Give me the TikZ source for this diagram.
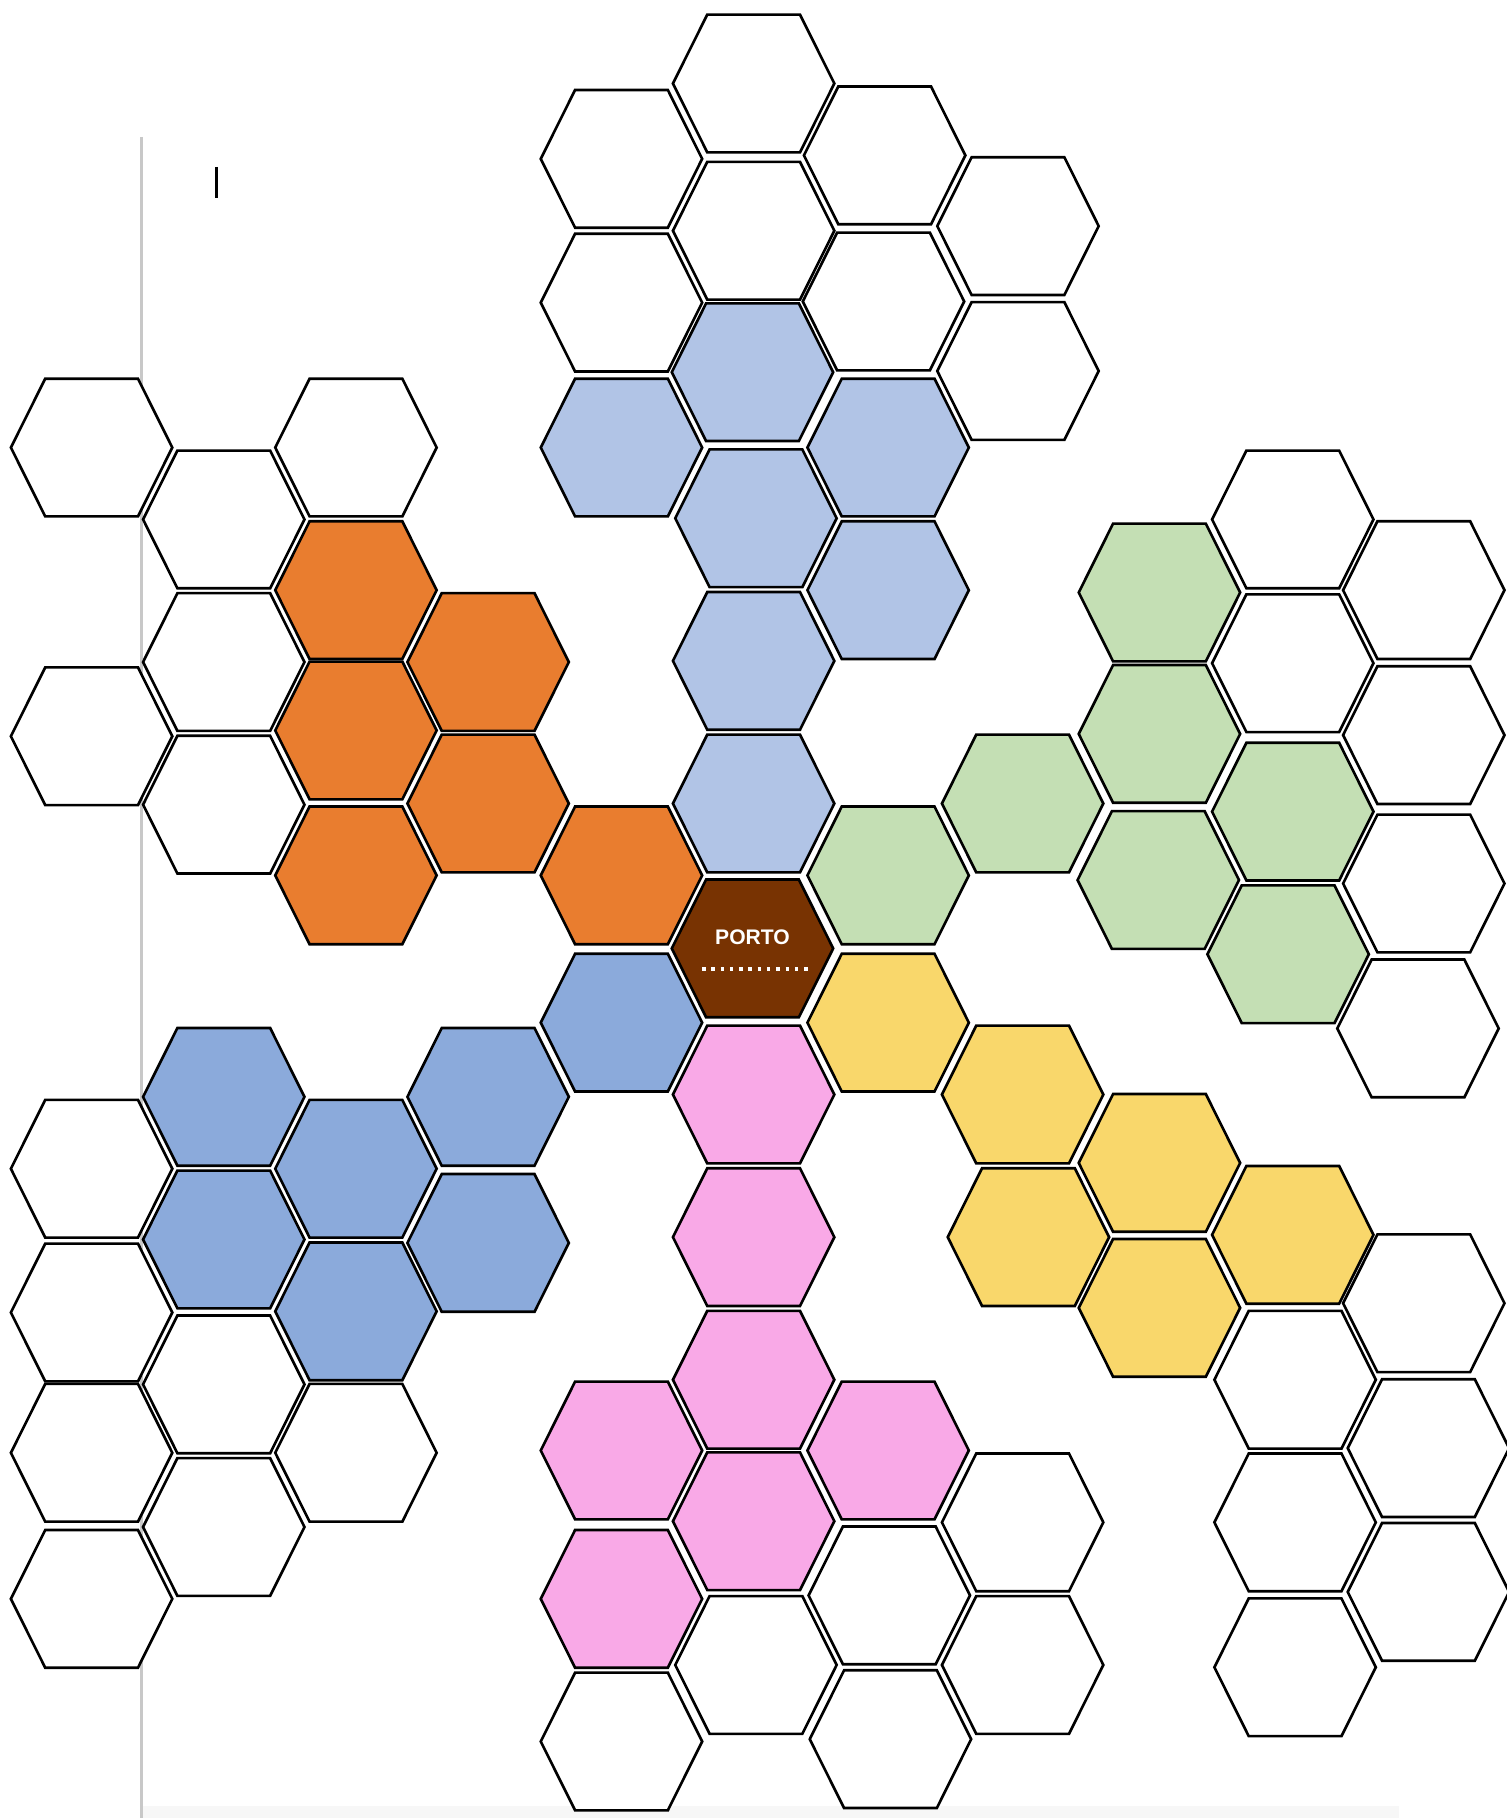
\documentclass[tikz,border=0pt]{standalone}
\usepackage{fontspec}
\newfontfamily\labelfont{Liberation Sans}
\usepackage{tikz}
\usetikzlibrary{positioning}
\definecolor{paleblue}{RGB}{177,196,230}
\definecolor{burnt}{RGB}{233,125,47}
\definecolor{sage}{RGB}{196,223,180}
\definecolor{sun}{RGB}{249,215,107}
\definecolor{rose}{RGB}{249,169,231}
\definecolor{steel}{RGB}{139,170,219}
\definecolor{portobrown}{RGB}{120,51,2}
\definecolor{margin}{RGB}{200,200,200}

\tikzset{
  hexcell/.pic={\path[pic actions] (-69.6,0) -- (-40,-59.4) -- (40,-59.4) -- (69.6,0) -- (40,59.4) -- (-40,59.4) -- cycle;},
  hexline/.style={draw=black, line width=0.75pt, line join=miter}
}

\begin{document}
\begin{tikzpicture}[x=0.011594cm, y=-0.011594cm]
  \useasboundingbox (0,0) rectangle (1299,1568);
  % Margin rule, cursor and bottom strip
  \fill[black!3] (123,1558) rectangle (1207,1568);
  \draw[margin, line width=0.75pt] (122,118) -- (122,1568);
  \draw[black, line width=0.85pt] (187,144) -- (187,171);
  % Empty cells
  \foreach \x/\y in {650/72, 536/137, 763/134, 878/195, 650/199, 536/261, 762/260, 878/320,
                     79/386, 307/386, 193/448, 193/571, 79/635, 193/694,
                     1115/448, 1228/509, 1115/572, 1228/634, 1228/762, 1223/887,
                     1228/1124, 1117/1190, 1232/1249, 1117/1313, 1232/1373, 1117/1438,
                     882/1313, 767/1376, 882/1436, 652/1436, 536/1502, 768/1500,
                     79/1008, 79/1132, 193/1194, 307/1253, 79/1253, 193/1317, 79/1379}
    \pic[hexline, fill=white] at (\x,\y) {hexcell};
  % North arm
  \foreach \x/\y in {649/321, 536/386, 766/386, 652/447, 766/509, 650/570, 650/693}
    \pic[hexline, fill=paleblue] at (\x,\y) {hexcell};
  % North-west arm
  \foreach \x/\y in {307/509, 421/571, 307/630, 421/693, 307/755, 536/755}
    \pic[hexline, fill=burnt] at (\x,\y) {hexcell};
  % North-east arm
  \foreach \x/\y in {766/755, 882/693, 1000/511, 1000/633, 1115/700, 999/759, 1111/823}
    \pic[hexline, fill=sage] at (\x,\y) {hexcell};
  % South-east arm
  \foreach \x/\y in {766/882, 882/944, 1000/1003, 887/1067, 1115/1065, 1000/1128}
    \pic[hexline, fill=sun] at (\x,\y) {hexcell};
  % South arm
  \foreach \x/\y in {650/944, 650/1067, 650/1190, 536/1251, 766/1251, 650/1312, 536/1379}
    \pic[hexline, fill=rose] at (\x,\y) {hexcell};
  % South-west arm
  \foreach \x/\y in {536/882, 421/946, 193/946, 307/1008, 193/1069, 421/1072, 307/1131}
    \pic[hexline, fill=steel] at (\x,\y) {hexcell};
  % Centre cell
  \pic[hexline, fill=portobrown] at (649,818) {hexcell};
  \node[text=white, font=\labelfont\bfseries\fontsize{6}{7}\selectfont, inner sep=0pt] (porto) at (649,808) {PORTO};
  \draw[white, line width=1pt, dash pattern=on 1pt off 1.64pt] (605.5,835.8) -- (697,835.8);
\end{tikzpicture}
\end{document}
